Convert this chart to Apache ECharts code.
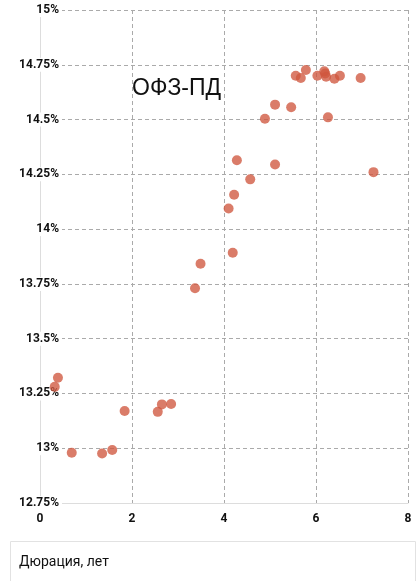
<!DOCTYPE html>
<html>
<head>
<meta charset="utf-8">
<script src="https://cdn.jsdelivr.net/npm/echarts@6/dist/echarts.min.js"></script>
<style>html,body{margin:0;padding:0;background:#fff}#c{width:418px;height:581px}</style>
</head>
<body>
<div id="c"></div>
<script>
const titleText = 'ОФЗ-ПД';
const xAxisName = 'Дюрация, лет';
const durations = [5.56, 5.67, 5.78, 6.03, 6.18, 6.20, 6.22, 6.40, 6.52, 6.97, 5.11, 5.46, 4.89, 6.26, 4.28, 5.11, 4.57, 7.25, 4.22, 4.10, 4.19, 3.49, 3.37, 0.39, 0.32, 0.69, 1.35, 1.57, 1.84, 2.56, 2.65, 2.85];
const yields = [14.70, 14.69, 14.726, 14.70, 14.72, 14.71, 14.695, 14.686, 14.70, 14.69, 14.568, 14.556, 14.504, 14.51, 14.314, 14.295, 14.227, 14.26, 14.157, 14.094, 13.892, 13.842, 13.73, 13.322, 13.28, 12.979, 12.976, 12.992, 13.17, 13.166, 13.20, 13.202];
const xTicks = {min: 0, max: 8, interval: 2};
const yTicks = {min: 12.75, max: 15, interval: 0.25};

const points = durations.map((d, i) => [d, yields[i]]);
const chart = echarts.init(document.getElementById('c'), null, {renderer: 'canvas'});
const labelStyle = {color: '#111', fontWeight: 'bold', fontSize: 12, fontFamily: 'Roboto'};
chart.setOption({
  animation: false,
  title: {text: titleText, left: 127, top: 72, textStyle: {fontSize: 23, fontWeight: 'normal', color: '#111', fontFamily: 'Liberation Sans'}},
  grid: {left: 40, right: 10, top: 10, bottom: 78, containLabel: false, outerBoundsMode: 'none'},
  xAxis: {
    type: 'value', min: xTicks.min, max: xTicks.max, interval: xTicks.interval,
    axisLine: {show: true, lineStyle: {color: '#ddd'}},
    axisTick: {show: false},
    axisLabel: Object.assign({margin: 10}, labelStyle),
    splitLine: {show: true, lineStyle: {type: [4, 3], color: '#aaa'}}
  },
  yAxis: {
    type: 'value', min: yTicks.min, max: yTicks.max, interval: yTicks.interval,
    axisLine: {show: true, lineStyle: {color: '#ddd'}},
    axisTick: {show: false},
    axisLabel: Object.assign({margin: -22, backgroundColor: '#fff', padding: [1, 3, 1, 0], formatter: v => (+v.toFixed(2)) + '%'}, labelStyle),
    splitLine: {show: true, lineStyle: {type: [4, 3], color: '#aaa'}}
  },
  graphic: [
    {type: 'rect', left: 10, top: 541, shape: {width: 405, height: 42}, style: {fill: '#fff', stroke: '#e2e2e2', lineWidth: 1}},
    {type: 'text', left: 19, top: 555, style: {text: xAxisName, fontSize: 14, fill: '#111', fontFamily: 'Roboto'}}
  ],
  series: [{
    type: 'scatter', data: points, symbolSize: 10,
    itemStyle: {color: '#d0573f', opacity: 0.78}
  }]
});
</script>
</body>
</html>
